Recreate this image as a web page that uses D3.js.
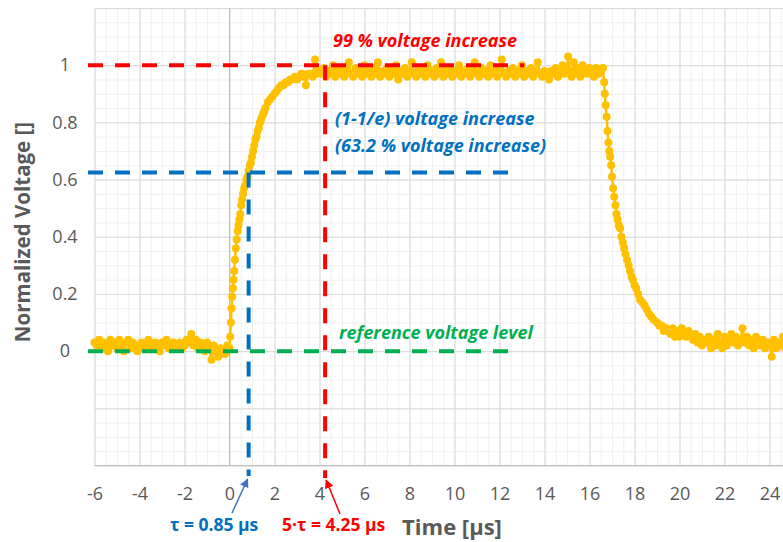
<!DOCTYPE html>
<html>
<head>
<meta charset="utf-8">
<script src="https://cdn.jsdelivr.net/npm/d3@7"></script>
<style>
  body { margin: 0; background: #ffffff; }
  svg { display: block; font-family: "Open Sans", "Liberation Sans", sans-serif; }
</style>
</head>
<body>
<div id="chart"></div>
<script>
// Chart size
var svgWidth = 783;
var svgHeight = 542;

// Axis ticks
var xTicks = [-6, -4, -2, 0, 2, 4, 6, 8, 10, 12, 14, 16, 18, 20, 22, 24];
var yTicks = [0, 0.2, 0.4, 0.6, 0.8, 1];
var yTickLabels = ["0", "0.2", "0.4", "0.6", "0.8", "1"];

// Marker levels / times
var tau = 0.85;
var fiveTau = 4.25;
var level632 = 0.625;
var level99 = 1;
var levelRef = 0;

// Measured signal [time µs, normalized voltage]
var baseline = [
  [-6.0, 0.03], [-5.9, 0.02], [-5.8, 0.04], [-5.7, 0.01], [-5.6, 0.03], [-5.5, 0.02], [-5.4, 0.00], [-5.3, 0.04], [-5.2, 0.02], [-5.1, 0.03],
  [-5.0, 0.01], [-4.9, 0.04], [-4.8, 0.02], [-4.7, 0.00], [-4.6, 0.03], [-4.5, 0.04], [-4.4, 0.01], [-4.3, 0.03], [-4.2, 0.02], [-4.1, 0.00],
  [-4.0, 0.02], [-3.9, 0.03], [-3.8, 0.01], [-3.7, 0.02], [-3.6, 0.04], [-3.5, 0.02], [-3.4, 0.01], [-3.3, 0.03], [-3.2, 0.02], [-3.1, 0.00],
  [-3.0, 0.03], [-2.9, 0.02], [-2.8, 0.04], [-2.7, 0.01], [-2.6, 0.02], [-2.5, 0.03], [-2.4, 0.01], [-2.3, 0.02], [-2.2, 0.03], [-2.1, 0.01],
  [-2.0, 0.02], [-1.9, 0.04], [-1.8, 0.03], [-1.7, 0.06], [-1.6, 0.02], [-1.5, 0.04], [-1.4, 0.01], [-1.3, 0.03], [-1.2, 0.02], [-1.1, 0.00],
  [-1.0, 0.03], [-0.9, 0.01], [-0.8, -0.03], [-0.7, 0.02], [-0.6, 0.00], [-0.5, -0.02], [-0.4, 0.01], [-0.3, 0.00], [-0.2, -0.01], [-0.1, 0.02]
];

var riseEdge = [
  [0.00, 0.01], [0.03, 0.05], [0.06, 0.10], [0.09, 0.15], [0.12, 0.19], [0.15, 0.22], [0.18, 0.25], [0.21, 0.28], [0.24, 0.32], [0.28, 0.36],
  [0.32, 0.39], [0.36, 0.42], [0.40, 0.44], [0.44, 0.46], [0.48, 0.48], [0.52, 0.51], [0.56, 0.53], [0.60, 0.55], [0.65, 0.57], [0.70, 0.58],
  [0.75, 0.60], [0.80, 0.61], [0.85, 0.63], [0.90, 0.65], [0.95, 0.66], [1.00, 0.68], [1.05, 0.70], [1.10, 0.72], [1.15, 0.74], [1.20, 0.75],
  [1.25, 0.77], [1.30, 0.78], [1.35, 0.80], [1.40, 0.81], [1.45, 0.82], [1.50, 0.83], [1.55, 0.84], [1.60, 0.85], [1.70, 0.87], [1.80, 0.88],
  [1.90, 0.89], [2.00, 0.90], [2.10, 0.91], [2.20, 0.92], [2.30, 0.93], [2.40, 0.93], [2.50, 0.94], [2.60, 0.94], [2.70, 0.95], [2.80, 0.95],
  [2.90, 0.96], [3.00, 0.95], [3.10, 0.96], [3.20, 0.97], [3.30, 0.96], [3.40, 0.93], [3.50, 0.97], [3.60, 0.97], [3.70, 0.96], [3.80, 1.02],
  [3.90, 0.97]
];

var plateau = [
  [4.0, 0.98], [4.1, 0.97], [4.2, 0.99], [4.3, 0.96], [4.4, 0.98], [4.5, 0.97], [4.6, 1.00], [4.7, 0.96], [4.8, 0.98], [4.9, 0.97],
  [5.0, 0.99], [5.1, 0.96], [5.2, 0.98], [5.3, 1.01], [5.4, 0.97], [5.5, 0.96], [5.6, 0.99], [5.7, 0.97], [5.8, 0.98], [5.9, 0.96],
  [6.0, 1.00], [6.1, 0.97], [6.2, 0.98], [6.3, 0.96], [6.4, 0.99], [6.5, 0.97], [6.6, 1.01], [6.7, 0.96], [6.8, 0.98], [6.9, 0.97],
  [7.0, 0.99], [7.1, 0.96], [7.2, 0.98], [7.3, 0.97], [7.4, 1.00], [7.5, 0.95], [7.6, 0.98], [7.7, 0.97], [7.8, 0.99], [7.9, 0.96],
  [8.0, 0.98], [8.1, 1.01], [8.2, 0.97], [8.3, 0.96], [8.4, 0.99], [8.5, 0.97], [8.6, 0.98], [8.7, 0.96], [8.8, 1.00], [8.9, 0.97],
  [9.0, 0.98], [9.1, 0.96], [9.2, 0.99], [9.3, 0.97], [9.4, 1.01], [9.5, 0.96], [9.6, 0.98], [9.7, 0.97], [9.8, 0.99], [9.9, 0.96],
  [10.0, 0.98], [10.1, 0.97], [10.2, 1.00], [10.3, 0.96], [10.4, 0.98], [10.5, 0.97], [10.6, 0.99], [10.7, 0.96], [10.8, 0.98], [10.9, 1.01],
  [11.0, 0.97], [11.1, 0.96], [11.2, 0.99], [11.3, 0.97], [11.4, 0.98], [11.5, 0.96], [11.6, 1.00], [11.7, 0.97], [11.8, 0.98], [11.9, 0.96],
  [12.0, 0.99], [12.1, 1.02], [12.2, 0.97], [12.3, 0.96], [12.4, 0.98], [12.5, 0.97], [12.6, 0.99], [12.7, 0.96], [12.8, 0.98], [12.9, 0.97],
  [13.0, 1.00], [13.1, 0.96], [13.2, 0.98], [13.3, 0.97], [13.4, 0.99], [13.5, 0.96], [13.6, 0.98], [13.7, 1.01], [13.8, 0.97], [13.9, 0.96],
  [14.0, 0.98], [14.1, 0.97], [14.2, 0.95], [14.3, 0.98], [14.4, 0.97], [14.5, 0.99], [14.6, 0.96], [14.7, 0.98], [14.8, 1.00], [14.9, 0.97],
  [15.0, 0.99], [15.05, 1.03], [15.1, 0.98], [15.2, 0.96], [15.3, 1.01], [15.4, 0.97], [15.5, 0.99], [15.6, 0.96], [15.7, 1.00], [15.8, 0.98],
  [15.9, 0.97], [16.0, 0.99], [16.1, 0.97], [16.2, 0.96], [16.3, 0.99], [16.4, 0.97], [16.5, 0.98]
];

var fallEdge = [
  [16.60, 0.99], [16.65, 0.94], [16.68, 0.90], [16.72, 0.86], [16.76, 0.82], [16.80, 0.77], [16.84, 0.73], [16.88, 0.70], [16.92, 0.68], [16.96, 0.65],
  [17.00, 0.61], [17.05, 0.57], [17.10, 0.54], [17.15, 0.51], [17.20, 0.48], [17.25, 0.46], [17.30, 0.44], [17.36, 0.43], [17.42, 0.40], [17.48, 0.38],
  [17.54, 0.36], [17.60, 0.34], [17.67, 0.32], [17.74, 0.30], [17.80, 0.28], [17.87, 0.26], [17.93, 0.25], [18.00, 0.23], [18.08, 0.22], [18.16, 0.20],
  [18.25, 0.18], [18.35, 0.17], [18.45, 0.16], [18.55, 0.145], [18.65, 0.13], [18.75, 0.12], [18.85, 0.11], [19.00, 0.10]
];

var tail = [
  [19.1, 0.09], [19.2, 0.09], [19.3, 0.07], [19.4, 0.08], [19.5, 0.07], [19.6, 0.06], [19.7, 0.08], [19.8, 0.05], [19.9, 0.07], [20.0, 0.05],
  [20.1, 0.08], [20.2, 0.06], [20.3, 0.05], [20.4, 0.07], [20.5, 0.05], [20.6, 0.04], [20.7, 0.06], [20.8, 0.03], [20.9, 0.05], [21.0, 0.02],
  [21.1, 0.04], [21.2, 0.03], [21.3, 0.05], [21.4, 0.01], [21.5, 0.04], [21.6, 0.02], [21.7, 0.06], [21.8, 0.03], [21.9, 0.01], [22.0, 0.05],
  [22.1, 0.02], [22.2, 0.04], [22.3, 0.06], [22.4, 0.03], [22.5, 0.05], [22.6, 0.02], [22.7, 0.04], [22.8, 0.08], [22.9, 0.03], [23.0, 0.05],
  [23.1, 0.02], [23.2, 0.04], [23.3, 0.01], [23.4, 0.05], [23.5, 0.03], [23.6, 0.02], [23.7, 0.04], [23.8, 0.01], [23.9, 0.03], [24.0, 0.02],
  [24.1, -0.02], [24.2, 0.04], [24.3, 0.01], [24.4, 0.03], [24.5, 0.02], [24.6, 0.05], [24.7, 0.01], [24.8, 0.03], [24.9, 0.02], [25.0, 0.04]
];

var signal = baseline.concat(riseEdge, plateau, fallEdge, tail);

// colours
var gridMajor = "#d9d9d9";
var gridMinor = "#f0f0f0";
var axisGrey = "#595959";
var dataColor = "#ffc000";
var red = "#ff0000";
var blue = "#0070c0";
var green = "#00b050";

var svg = d3.select("#chart")
  .append("svg")
  .attr("width", svgWidth)
  .attr("height", svgHeight);

// plot area (right side runs past the window edge, like the source)
var plotLeft = 94.5, plotTop = 8, plotBottom = 465.5;

var xScale = d3.scaleLinear()
  .domain([-6, 26])
  .range([plotLeft, plotLeft + 32 * 22.5]);

var yScale = d3.scaleLinear()
  .domain([-0.4, 1.2])
  .range([plotBottom, plotTop]);

var plotRight = xScale(26);

// Gridlines: minor first, then major
var gridGroup = svg.append("g");

gridGroup.append("g")
  .attr("transform", `translate(0, ${plotBottom})`)
  .call(d3.axisBottom(xScale).ticks(80).tickSize(-(plotBottom - plotTop)).tickFormat(""))
  .call(g => g.select(".domain").remove())
  .selectAll("line").attr("stroke", gridMinor);

gridGroup.append("g")
  .attr("transform", `translate(${plotLeft}, 0)`)
  .call(d3.axisLeft(yScale).ticks(40).tickSize(-(plotRight - plotLeft)).tickFormat(""))
  .call(g => g.select(".domain").remove())
  .selectAll("line").attr("stroke", gridMinor);

gridGroup.append("g")
  .attr("transform", `translate(0, ${plotBottom})`)
  .call(d3.axisBottom(xScale).ticks(16).tickSize(-(plotBottom - plotTop)).tickFormat(""))
  .call(g => g.select(".domain").remove())
  .selectAll("line").attr("stroke", gridMajor);

gridGroup.append("g")
  .attr("transform", `translate(${plotLeft}, 0)`)
  .call(d3.axisLeft(yScale).ticks(8).tickSize(-(plotRight - plotLeft)).tickFormat(""))
  .call(g => g.select(".domain").remove())
  .selectAll("line").attr("stroke", gridMajor);

// vertical axis line at t = 0 and bottom axis line
svg.append("line")
  .attr("x1", xScale(0)).attr("x2", xScale(0))
  .attr("y1", plotTop).attr("y2", plotBottom)
  .attr("stroke", "#bfbfbf");

svg.append("line")
  .attr("x1", plotLeft).attr("x2", plotRight)
  .attr("y1", plotBottom).attr("y2", plotBottom)
  .attr("stroke", "#bfbfbf");

// X tick labels
var xAxis = svg.append("g")
  .attr("transform", `translate(0, ${plotBottom})`)
  .call(d3.axisBottom(xScale).tickValues(xTicks).tickSize(0).tickPadding(22).tickFormat(d => d));
xAxis.select(".domain").remove();
xAxis.selectAll("text")
  .attr("fill", axisGrey)
  .attr("font-size", "18px")
  .attr("font-family", "Open Sans, sans-serif");

// Y tick labels
svg.append("g")
  .selectAll("text")
  .data(yTicks)
  .enter()
  .append("text")
  .attr("x", 65)
  .attr("y", d => yScale(d))
  .attr("dy", "0.35em")
  .attr("text-anchor", "middle")
  .attr("fill", axisGrey)
  .attr("font-size", "18px")
  .text((d, i) => yTickLabels[i]);

// Axis titles
svg.append("text")
  .attr("transform", `translate(30, 232) rotate(-90)`)
  .attr("text-anchor", "middle")
  .attr("fill", axisGrey)
  .attr("font-weight", "bold")
  .attr("font-size", "20.5px")
  .text("Normalized Voltage []");

svg.append("text")
  .attr("x", 452)
  .attr("y", 535)
  .attr("text-anchor", "middle")
  .attr("fill", axisGrey)
  .attr("font-weight", "bold")
  .attr("font-size", "22px")
  .text("Time [µs]");

// Measured data: line + markers
var line = d3.line()
  .x(d => xScale(d[0]))
  .y(d => yScale(d[1]));

svg.append("path")
  .datum(signal)
  .attr("d", line)
  .attr("fill", "none")
  .attr("stroke", dataColor)
  .attr("stroke-width", 2.5);

svg.append("g")
  .selectAll("circle")
  .data(signal)
  .enter()
  .append("circle")
  .attr("cx", d => xScale(d[0]))
  .attr("cy", d => yScale(d[1]))
  .attr("r", 4)
  .attr("fill", dataColor);

// Dashed guide lines
var dash = "15,12";
var guideStart = 88;

function guide(x1, y1, x2, y2, color) {
  svg.append("line")
    .attr("x1", x1).attr("y1", y1)
    .attr("x2", x2).attr("y2", y2)
    .attr("stroke", color)
    .attr("stroke-width", 4)
    .attr("stroke-dasharray", dash);
}

guide(guideStart, yScale(levelRef), xScale(12.9), yScale(levelRef), green);
guide(guideStart, yScale(level632), xScale(12.65), yScale(level632), blue);
guide(guideStart, yScale(level99), xScale(13.1), yScale(level99), red);
guide(xScale(tau), yScale(level632), xScale(tau), 476, blue);
guide(xScale(fiveTau), yScale(level99), xScale(fiveTau), 478, red);

// Annotation text
function note(x, y, txt, color, italic, size) {
  svg.append("text")
    .attr("x", x)
    .attr("y", y)
    .attr("fill", color)
    .attr("font-weight", "bold")
    .attr("font-style", italic ? "italic" : "normal")
    .attr("font-size", size + "px")
    .text(txt);
}

note(333, 47, "99 % voltage increase", red, true, 18);
note(335, 125, "(1-1/e) voltage increase", blue, true, 18);
note(335, 152, "(63.2 % voltage increase)", blue, true, 18);
note(339, 339, "reference voltage level", green, true, 18);
note(170, 531, "τ = 0.85 µs", blue, false, 17.5);
note(282, 531, "5·τ = 4.25 µs", red, false, 17.5);

// Arrows from the time labels to the dashed lines
var defs = svg.append("defs");
[["arrowBlue", "#4472c4"], ["arrowRed", red]].forEach(function (a) {
  defs.append("marker")
    .attr("id", a[0])
    .attr("viewBox", "0 0 10 10")
    .attr("refX", 9)
    .attr("refY", 5)
    .attr("markerWidth", 6)
    .attr("markerHeight", 6)
    .attr("orient", "auto")
    .append("path")
    .attr("d", "M0,0 L10,5 L0,10 z")
    .attr("fill", a[1]);
});

svg.append("line")
  .attr("x1", 232).attr("y1", 513)
  .attr("x2", xScale(tau) - 1).attr("y2", 479)
  .attr("stroke", "#4472c4")
  .attr("stroke-width", 1.5)
  .attr("marker-end", "url(#arrowBlue)");

svg.append("line")
  .attr("x1", 340).attr("y1", 514)
  .attr("x2", xScale(fiveTau) + 1).attr("y2", 480)
  .attr("stroke", red)
  .attr("stroke-width", 1.5)
  .attr("marker-end", "url(#arrowRed)");
</script>
</body>
</html>
